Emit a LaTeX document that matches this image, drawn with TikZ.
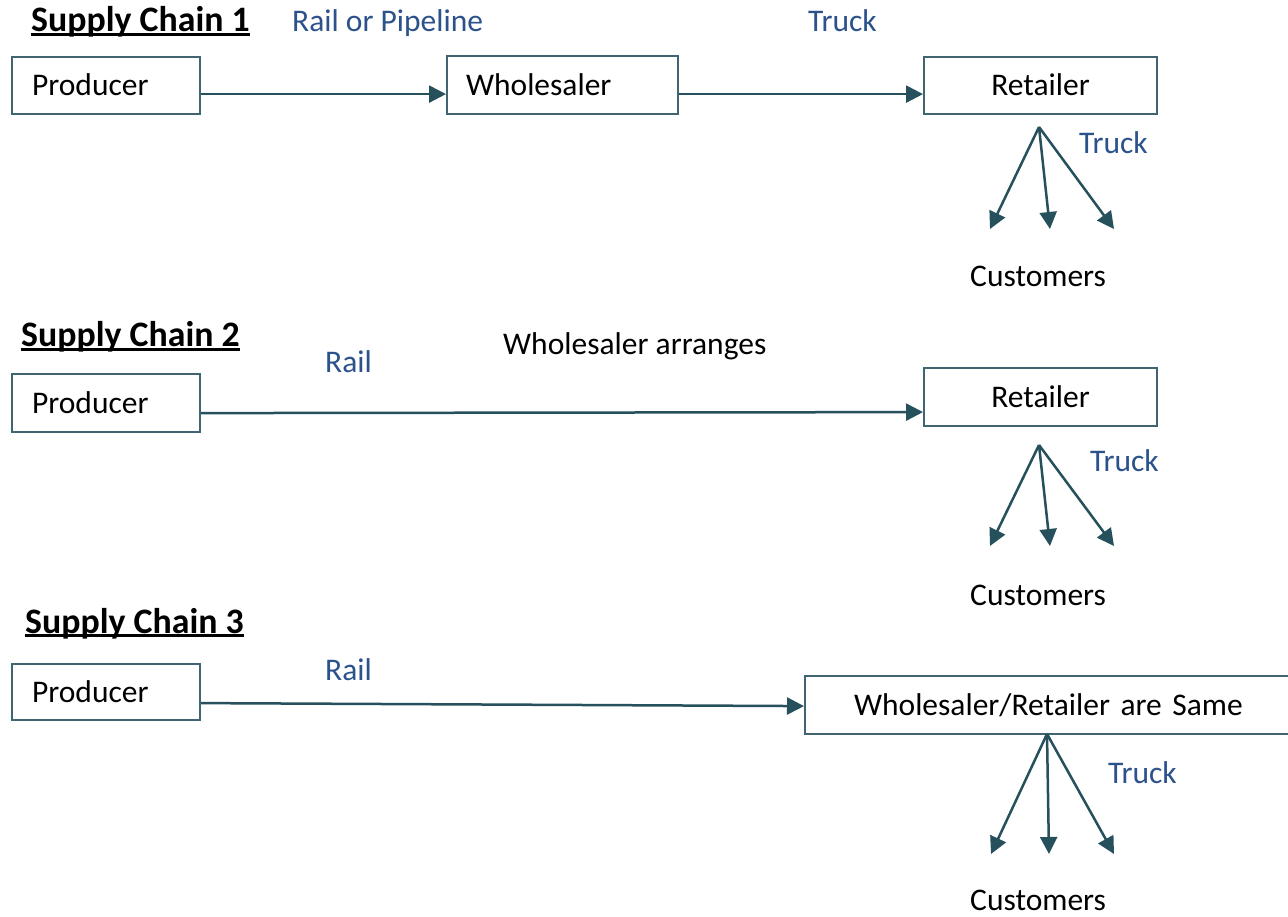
\documentclass[tikz,border=0pt]{standalone}
\usepackage{fontspec}
\setmainfont{Carlito}
\usetikzlibrary{arrows.meta}
\definecolor{lineclr}{RGB}{37,80,92}
\definecolor{boxclr}{RGB}{64,100,112}
\definecolor{bluetxt}{RGB}{44,82,140}
\newcommand{\ulbox}[1]{\setbox0=\hbox{#1}\rlap{\rule[-4.2pt]{\wd0}{3.6pt}}\box0}
\begin{document}
\begin{tikzpicture}[x=1pt,y=-1pt,
  every node/.style={inner sep=0pt, font=\fontsize{31.5}{38}\selectfont},
  title/.style={anchor=base west, font=\fontsize{35.8}{42}\selectfont\bfseries},
  lbl/.style={anchor=base west, text=bluetxt},
  plain/.style={anchor=base west},
  box/.style={draw=boxclr, line width=2.2pt, anchor=north west, text height=20pt, text depth=0pt},
  arr/.style={draw=lineclr, line width=2.5pt, -{Triangle[length=17pt,width=17pt]}}]
\useasboundingbox (0,0) rectangle (1288,917);
\clip (0,0) rectangle (1288,917);
\fill[white] (0,0) rectangle (1288,917);

% ---------- Supply Chain 1 ----------
\node[title] (t1) at (31,32) {\ulbox{Supply Chain 1}};
\node[lbl] (l1a) at (292,32) {Rail or Pipeline};
\node[lbl] (l1b) at (808,32) {Truck};
\node[box, minimum height=57pt, inner xsep=20pt, text width=148pt, align=left] (p1) at (11,56) {Producer};
\node[box, minimum height=58pt, inner xsep=19pt, text width=193pt, align=left] (w1) at (446,55) {Wholesaler};
\node[box, minimum height=57pt, minimum width=233pt, align=center] (r1) at (923,56) {Retailer};
\draw[arr] ([yshift=-8.5pt]p1.east) -- ([yshift=-9pt]w1.west);
\draw[arr] ([yshift=-9pt]w1.east) -- ([yshift=-8.5pt]r1.west);
\coordinate (o1) at (1039,127);
\coordinate (c1a) at (990,229);
\coordinate (c1b) at (1050,229);
\coordinate (c1c) at (1114,229);
\draw[arr] (o1) -- (c1a);
\draw[arr] (o1) -- (c1b);
\draw[arr] (o1) -- (c1c);
\node[lbl] (l1c) at (1079,154) {Truck};
\node[plain] (cu1) at (970,287) {Customers};

% ---------- Supply Chain 2 ----------
\node[title] (t2) at (21,347) {\ulbox{Supply Chain 2}};
\node[lbl] (l2a) at (325,372) {Rail};
\node[plain] (wa) at (503,355) {Wholesaler arranges};
\node[box, minimum height=58pt, inner xsep=20pt, text width=148pt, align=left] (p2) at (11,373) {Producer};
\node[box, minimum height=58pt, minimum width=233pt, align=center] (r2) at (923,367) {Retailer};
\draw[arr] ([yshift=-10pt]p2.east) -- ([yshift=-15pt]r2.west);
\coordinate (o2) at (1039,445);
\coordinate (c2a) at (990,546);
\coordinate (c2b) at (1050,546);
\coordinate (c2c) at (1114,546);
\draw[arr] (o2) -- (c2a);
\draw[arr] (o2) -- (c2b);
\draw[arr] (o2) -- (c2c);
\node[lbl] (l2c) at (1090,471) {Truck};
\node[plain] (cu2) at (970,605) {Customers};

% ---------- Supply Chain 3 ----------
\node[title] (t3) at (25,633) {\ulbox{Supply Chain 3}};
\node[lbl] (l3a) at (325,680) {Rail};
\node[box, minimum height=56pt, inner xsep=20pt, text width=148pt, align=left] (p3) at (11,663) {Producer};
\node[box, minimum height=58pt, inner xsep=49pt, text width=422pt, align=left] (b3) at (804,675) {Wholesaler/Retailer are Same};
\draw[arr] ([yshift=-11pt]p3.east) -- ([yshift=-1pt]b3.west);
\coordinate (o3) at (1047,734);
\coordinate (c3a) at (991,854);
\coordinate (c3b) at (1049,854);
\coordinate (c3c) at (1114,854);
\draw[arr] (o3) -- (c3a);
\draw[arr] (o3) -- (c3b);
\draw[arr] (o3) -- (c3c);
\node[lbl] (l3c) at (1108,783) {Truck};
\node[plain] (cu3) at (970,910) {Customers};
\end{tikzpicture}
\end{document}
